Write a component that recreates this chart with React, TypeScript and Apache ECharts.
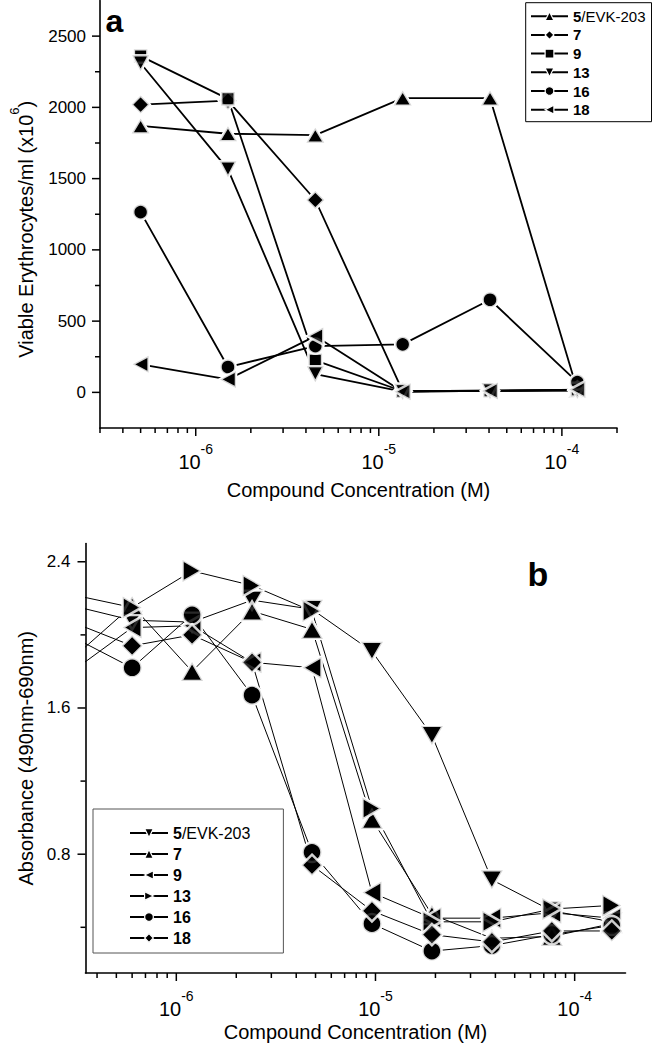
import React, { useEffect, useRef } from 'react';
import * as echarts from 'echarts';

const FONT = '"Liberation Sans", Arial, Helvetica, sans-serif';

// ---------- Panel a : viable erythrocytes ----------
const concA = [5e-7, 1.5e-6, 4.5e-6, 1.35e-5, 4.05e-5, 1.215e-4];
const a5 = [1870, 1815, 1805, 2065, 2065, 15];
const a7 = [2020, 2047, 1350, 8, 12, 15];
const a9 = [2360, 2060, 225, 8, 12, 18];
const a13 = [2310, 1565, 128, 5, 10, 12];
const a16 = [1265, 178, 325, 337, 650, 72];
const a18 = [197, 91, 395, 5, 10, 20];
const labelsA = ['5/EVK-203', '7', '9', '13', '16', '18'];

// ---------- Panel b : absorbance ----------
const concB = [3e-7, 6e-7, 1.2e-6, 2.4e-6, 4.8e-6, 9.6e-6, 1.92e-5, 3.84e-5, 7.68e-5, 1.536e-4];
const b5 = [2.16, 2.08, 2.07, 2.19, 2.14, 1.91, 1.45, 0.66, 0.49, 0.43];
const b7 = [1.87, 2.16, 1.8, 2.13, 2.03, 0.99, 0.47, 0.34, 0.35, 0.42];
const b9 = [1.8, 2.04, 2.05, 1.85, 1.82, 0.59, 0.45, 0.45, 0.48, 0.45];
const b13 = [2.22, 2.15, 2.35, 2.27, 2.13, 1.05, 0.43, 0.43, 0.5, 0.52];
const b16 = [1.99, 1.82, 2.11, 1.67, 0.81, 0.42, 0.27, 0.3, 0.36, 0.41];
const b18 = [2.07, 1.94, 2.0, 1.85, 0.74, 0.49, 0.36, 0.32, 0.38, 0.38];
const labelsB = ['5/EVK-203', '7', '9', '13', '16', '18'];

// ---------- ticks ----------
const xTicksA = [3e-7, 4e-7, 5e-7, 6e-7, 7e-7, 8e-7, 9e-7, 1e-6, 2e-6, 3e-6, 4e-6, 5e-6, 6e-6, 7e-6, 8e-6, 9e-6,
  1e-5, 2e-5, 3e-5, 4e-5, 5e-5, 6e-5, 7e-5, 8e-5, 9e-5, 1e-4, 2e-4];
const xTicksB = [4e-7, 5e-7, 6e-7, 7e-7, 8e-7, 9e-7, 1e-6, 2e-6, 3e-6, 4e-6, 5e-6, 6e-6, 7e-6, 8e-6, 9e-6,
  1e-5, 2e-5, 3e-5, 4e-5, 5e-5, 6e-5, 7e-5, 8e-5, 9e-5, 1e-4];
const yTicksA = [0, 250, 500, 750, 1000, 1250, 1500, 1750, 2000, 2250, 2500];
const yTicksB = [0.4, 0.8, 1.2, 1.6, 2.0, 2.4];

const X_MIN_A = 3e-7, X_MAX_A = 2e-4, Y_MIN_A = -250, Y_MAX_A = 2750;
const X_MIN_B = 3.5e-7, X_MAX_B = 1.8e-4, Y_MIN_B = 0.15, Y_MAX_B = 2.5;

const isDecade = (v: number) => Math.abs(Math.log10(v) - Math.round(Math.log10(v))) < 1e-6;
const isMajorA = (v: number) => v % 500 === 0;
const isMajorB = (v: number) => Math.abs(v / 0.8 - Math.round(v / 0.8)) < 1e-6;

const symA = [
  { symbol: 'triangle', size: [18, 15], rot: 0 },
  { symbol: 'diamond', size: [18, 18], rot: 0 },
  { symbol: 'rect', size: [13.5, 13.5], rot: 0 },
  { symbol: 'triangle', size: [17, 16], rot: 180 },
  { symbol: 'circle', size: 15, rot: 0 },
  { symbol: 'triangle', size: [17, 16], rot: 90 },
];
const symB = [
  { symbol: 'triangle', size: [22, 19], rot: 180 },
  { symbol: 'triangle', size: [22, 19], rot: 0 },
  { symbol: 'triangle', size: [22, 19], rot: 90 },
  { symbol: 'triangle', size: [22, 19], rot: -90 },
  { symbol: 'circle', size: 19, rot: 0 },
  { symbol: 'diamond', size: [21, 21], rot: 0 },
];

const legendText = (label: string) => {
  if (label.indexOf('/') >= 0) {
    const [num, rest] = label.split('/');
    return `{b|${num}}{n|/${rest}}`;
  }
  return `{b|${label}}`;
};

function xTickSeries(ticks: number[], idx: number, yMin: number) {
  return {
    type: 'custom', xAxisIndex: idx, yAxisIndex: idx, silent: true, clip: false, z: 10,
    data: ticks.map((v) => [v, yMin]),
    encode: { x: 0, y: 1 },
    renderItem: (_p: any, api: any) => {
      const v = api.value(0);
      const pt = api.coord([v, api.value(1)]);
      const len = isDecade(v) ? 8 : 5;
      return { type: 'line', shape: { x1: pt[0], y1: pt[1], x2: pt[0], y2: pt[1] + len }, style: { stroke: '#000', lineWidth: 1.5 } };
    },
  };
}
function yTickSeries(ticks: number[], idx: number, xMin: number, major: (v: number) => boolean) {
  return {
    type: 'custom', xAxisIndex: idx, yAxisIndex: idx, silent: true, clip: false, z: 10,
    data: ticks.map((v) => [xMin, v]),
    encode: { x: 0, y: 1 },
    renderItem: (_p: any, api: any) => {
      const v = api.value(1);
      const pt = api.coord([api.value(0), v]);
      const len = major(v) ? 8 : 5;
      return { type: 'line', shape: { x1: pt[0], y1: pt[1], x2: pt[0] - len, y2: pt[1] }, style: { stroke: '#000', lineWidth: 1.5 } };
    },
  };
}

export default function App() {
  const ref = useRef<HTMLDivElement>(null);
  useEffect(() => {
    if (!ref.current) return;
    const chart = echarts.init(ref.current, undefined, { renderer: 'svg' });

    const seriesA = [a5, a7, a9, a13, a16, a18];
    const seriesB = [b5, b7, b9, b13, b16, b18];
    const series: any[] = [];

    seriesA.forEach((vals, i) => {
      const data = concA.map((c, j) => [c, vals[j]]);
      const s = symA[i];
      const common = {
        xAxisIndex: 0, yAxisIndex: 0, data, symbol: s.symbol, symbolSize: s.size, symbolRotate: s.rot,
        itemStyle: { color: '#000', borderColor: '#fff', borderWidth: 2.5 },
      };
      series.push({ ...common, type: 'line', name: 'a' + i, z: 2, lineStyle: { color: '#000', width: 1.8 } });
      series.push({ ...common, type: 'scatter', name: 'am' + i, z: 3 });
    });
    seriesB.forEach((vals, i) => {
      const data = concB.map((c, j) => [c, vals[j]]);
      const s = symB[i];
      const common = {
        xAxisIndex: 1, yAxisIndex: 1, data, symbol: s.symbol, symbolSize: s.size, symbolRotate: s.rot,
        itemStyle: { color: '#000', borderColor: '#fff', borderWidth: 2.5 },
      };
      series.push({ ...common, type: 'line', name: 'b' + i, z: 2, lineStyle: { color: '#000', width: 1 } });
      series.push({ ...common, type: 'scatter', name: 'bm' + i, z: 3 });
    });

    series.push(xTickSeries(xTicksA, 0, Y_MIN_A));
    series.push(yTickSeries(yTicksA, 0, X_MIN_A, isMajorA));
    series.push(xTickSeries(xTicksB, 1, Y_MIN_B));
    series.push(yTickSeries(yTicksB, 1, X_MIN_B, isMajorB));

    const xLabel = (margin: number) => ({
      color: '#000', margin, showMinLabel: false, showMaxLabel: false,
      formatter: (v: number) => (isDecade(v) ? `{base|10}{sup|${Math.round(Math.log10(v))}}` : ''),
      rich: {
        base: { fontSize: 20, fontFamily: FONT, color: '#000', lineHeight: 30, verticalAlign: 'bottom' },
        sup: { fontSize: 14, fontFamily: FONT, color: '#000', lineHeight: 14, verticalAlign: 'top' },
      },
    });
    const axisLine = { show: true, onZero: false, lineStyle: { color: '#000', width: 1.6 } };
    const nameStyle = { fontSize: 20, fontFamily: FONT, color: '#000' };

    const legendRich = (fs: number) => ({
      fontFamily: FONT, fontSize: fs, color: '#000',
      rich: {
        b: { fontFamily: FONT, fontSize: fs, fontWeight: 'bold', color: '#000', lineHeight: 16 },
        n: { fontFamily: FONT, fontSize: fs, color: '#000', lineHeight: 16 },
      },
    });

    chart.setOption({
      animation: false,
      backgroundColor: '#fff',
      grid: [
        { left: 85.5, top: 0.5, width: 531.5, height: 427.5 },
        { left: 85.5, top: 543.5, width: 540, height: 429.5 },
      ],
      xAxis: [
        {
          type: 'log', logBase: 10, gridIndex: 0, min: X_MIN_A, max: X_MAX_A,
          axisLine, axisTick: { show: false }, splitLine: { show: false }, axisLabel: xLabel(14),
          name: 'Compound Concentration (M)', nameLocation: 'middle', nameGap: 52, nameTextStyle: nameStyle,
        },
        {
          type: 'log', logBase: 10, gridIndex: 1, min: X_MIN_B, max: X_MAX_B,
          axisLine, axisTick: { show: false }, splitLine: { show: false }, axisLabel: xLabel(16),
          name: 'Compound Concentration (M)', nameLocation: 'middle', nameGap: 49, nameTextStyle: nameStyle,
        },
      ],
      yAxis: [
        {
          type: 'value', gridIndex: 0, min: Y_MIN_A, max: Y_MAX_A, interval: 250,
          axisLine, axisTick: { show: false }, splitLine: { show: false },
          axisLabel: { color: '#000', fontSize: 17, fontFamily: FONT, margin: 14, formatter: (v: number) => (isMajorA(v) ? String(v) : '') },
          name: '{t|Viable Erythrocytes/ml (x10}{sup|6}{t|)}', nameLocation: 'middle', nameGap: 64,
          nameTextStyle: {
            ...nameStyle, padding: [0, 30, 0, 0],
            rich: {
              t: { fontSize: 20, fontFamily: FONT, color: '#000', lineHeight: 28, verticalAlign: 'bottom' },
              sup: { fontSize: 13, fontFamily: FONT, color: '#000', lineHeight: 13, verticalAlign: 'top' },
            },
          },
        },
        {
          type: 'value', gridIndex: 1, min: Y_MIN_B, max: Y_MAX_B, interval: 0.05,
          axisLine, axisTick: { show: false }, splitLine: { show: false },
          axisLabel: { color: '#000', fontSize: 17, fontFamily: FONT, margin: 15, formatter: (v: number) => (isMajorB(v) ? v.toFixed(1) : '') },
          name: 'Absorbance (490nm-690nm)', nameLocation: 'middle', nameGap: 44, nameTextStyle: nameStyle,
        },
      ],
      legend: [
        {
          data: ['a0', 'a1', 'a2', 'a3', 'a4', 'a5'], orient: 'vertical', left: 525.7, top: 2.7,
          padding: [6, 6, 4.5, 4.3], itemGap: 3.7, itemWidth: 37, itemHeight: 11,
          borderColor: '#000', borderWidth: 1, selectedMode: false,
          itemStyle: { borderWidth: 1.2 },
          formatter: (name: string) => legendText(labelsA[Number(name.slice(1))]),
          textStyle: legendRich(15),
        },
        {
          data: ['b0', 'b1', 'b2', 'b3', 'b4', 'b5'], orient: 'vertical', left: 93, top: 809,
          padding: [16, 33, 7, 36], itemGap: 5, itemWidth: 38, itemHeight: 11,
          borderColor: '#555', borderWidth: 1, selectedMode: false,
          itemStyle: { borderWidth: 1.2 },
          formatter: (name: string) => legendText(labelsB[Number(name.slice(1))]),
          textStyle: legendRich(16),
        },
      ],
      graphic: [
        { type: 'text', x: 114.5, y: 21, style: { text: 'a', fontSize: 32, fontWeight: 'bold', fontFamily: FONT, fill: '#000', align: 'center', verticalAlign: 'middle' } },
        { type: 'text', x: 538, y: 574, style: { text: 'b', fontSize: 34, fontWeight: 'bold', fontFamily: FONT, fill: '#000', align: 'center', verticalAlign: 'middle' } },
      ],
      series,
    });
    return () => chart.dispose();
  }, []);
  return <div ref={ref} style={{ position: 'absolute', left: 0, top: 0, width: 652, height: 1044 }} />;
}
